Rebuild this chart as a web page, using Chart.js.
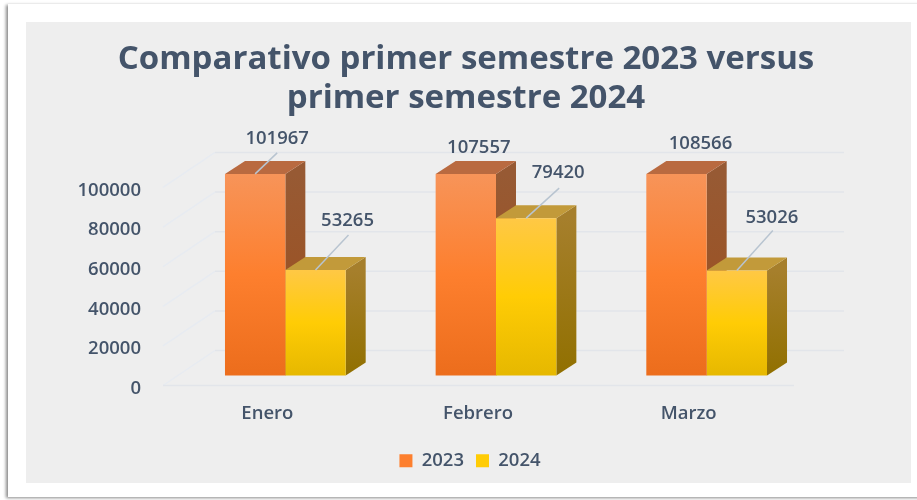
<!DOCTYPE html>
<html>
<head>
<meta charset="utf-8">
<title>Comparativo primer semestre</title>
<script src="https://cdn.jsdelivr.net/npm/chart.js@4"></script>
<style>
  html,body{margin:0;padding:0;background:#fff;width:917px;height:500px;overflow:hidden}
  #marco{position:absolute;left:8px;top:4px;width:930px;height:493px;background:#fff;box-shadow:-2px 1px 3px #8a8a8a}
  #panel{position:absolute;left:26px;top:22px;width:885px;height:461px;background:#eeeeee}
  canvas{position:absolute;left:0;top:0}
</style>
</head>
<body>
<div id="marco"></div>
<div id="panel"></div>
<canvas id="grafico" width="917" height="500"></canvas>
<script>
const categorias = ["Enero","Febrero","Marzo"];
const serie2023 = [101967,107557,108566];
const serie2024 = [53265,79420,53026];
const nombres = ["2023","2024"];
const marcasY = [0,20000,40000,60000,80000,100000];

const titulo = ["Comparativo primer semestre 2023 versus","primer semestre 2024"];
const colorTexto = "#44546a";
const fuente = "'Open Sans', sans-serif";

// colores: frente (arriba, medio, abajo), lado y techo de cada barra
const frente = [["#f79459","#fd7f2e","#ec6d1c"],["#ffc845","#ffcc05","#e6b800"]];
const lados = [["#975a34","#9e4e1b"],["#a67f2c","#917000"]];
const techos = ["#b96a40","#c29a3a"];

// profundidad de la barra y de la pared del fondo
const prof = {x:20,y:13};
const pared = {x:52,y:35};

// desplazamiento de cada etiqueta y fin de su linea guia, respecto al techo de la barra
const posEtiquetas = [
  [[22,-35],[13,-26],[24,-30]],
  [[32,-49],[32,-45],[35,-53]]
];
const finGuia = [
  [[22,-21],null,null],
  [[33,-35],[33,-30],[36,-40]]
];

function degradado(ctx,i){
  const c = frente[i];
  const area = ctx.chart.chartArea;
  if(!area || ctx.raw===undefined) return c[1];
  const esc = ctx.chart.scales.yBarras;
  const arriba = Math.max(esc.getPixelForValue(ctx.raw),area.top);
  const abajo = esc.getPixelForValue(0);
  const g = ctx.chart.ctx.createLinearGradient(0,arriba,0,abajo);
  g.addColorStop(0,c[0]);
  g.addColorStop(0.5,c[1]);
  g.addColorStop(1,c[2]);
  return g;
}

const pluginFondo = {
  id:"fondo3d",
  afterLayout(chart){
    // la leyenda va un poco a la derecha del titulo
    chart.legend.left += 4;
    chart.legend.right += 4;
  },
  beforeDatasetsDraw(chart){
    const c = chart.ctx, a = chart.chartArea, y = chart.scales.y;
    c.save();
    c.lineWidth = 1.5;
    y.ticks.forEach(t=>{
      const py = y.getPixelForValue(t.value);
      c.strokeStyle = "#e7ebf1";
      c.beginPath();
      c.moveTo(a.left-17,py);
      c.lineTo(a.left-17+pared.x,py-pared.y);
      c.stroke();
      c.strokeStyle = "#e2e5ea";
      c.beginPath();
      c.moveTo(a.left-17+pared.x,py-pared.y);
      c.lineTo(a.right+32,py-pared.y);
      c.stroke();
      if(t.value===0){
        c.beginPath();
        c.moveTo(a.left-17,py);
        c.lineTo(a.right-18,py);
        c.stroke();
      }
    });
    // lado y techo de las barras
    [0,1].forEach(i=>{
      chart.getDatasetMeta(i).data.forEach(b=>{
        const top = Math.max(b.y,a.top), izq = b.x-b.width/2, der = b.x+b.width/2;
        const g = c.createLinearGradient(0,top,0,b.base);
        g.addColorStop(0,lados[i][0]);
        g.addColorStop(1,lados[i][1]);
        c.fillStyle = g;
        c.beginPath();
        c.moveTo(der,top);
        c.lineTo(der+prof.x,top-prof.y);
        c.lineTo(der+prof.x,b.base-prof.y);
        c.lineTo(der,b.base);
        c.closePath();
        c.fill();
        c.fillStyle = techos[i];
        c.beginPath();
        c.moveTo(izq,top);
        c.lineTo(izq+prof.x,top-prof.y);
        c.lineTo(der+prof.x,top-prof.y);
        c.lineTo(der,top);
        c.closePath();
        c.fill();
      });
    });
    c.restore();
  },
  afterDatasetsDraw(chart){
    const c = chart.ctx, a = chart.chartArea;
    c.save();
    c.font = "600 18.5px "+fuente;
    c.fillStyle = colorTexto;
    c.textAlign = "center";
    c.textBaseline = "middle";
    c.strokeStyle = "#b8c4d0";
    c.lineWidth = 1.5;
    [0,1].forEach(i=>{
      chart.getDatasetMeta(i).data.forEach((b,j)=>{
        const top = Math.max(b.y,a.top);
        const fin = finGuia[i][j], pos = posEtiquetas[i][j];
        if(fin){
          c.beginPath();
          c.moveTo(b.x,top);
          c.lineTo(b.x+fin[0],top+fin[1]);
          c.stroke();
        }
        c.fillText(chart.data.datasets[i].data[j],b.x+pos[0],top+pos[1]);
      });
    });
    c.restore();
  }
};

const fuenteEjes = {family:fuente,size:18.5,weight:"600"};

new Chart(document.getElementById("grafico"),{
  type:"bar",
  data:{
    labels:categorias,
    datasets:[
      {label:nombres[0],data:serie2023,yAxisID:"yBarras",backgroundColor:ctx=>degradado(ctx,0),categoryPercentage:0.573,barPercentage:1},
      {label:nombres[1],data:serie2024,yAxisID:"yBarras",backgroundColor:ctx=>degradado(ctx,1),categoryPercentage:0.573,barPercentage:1}
    ]
  },
  plugins:[pluginFondo],
  options:{
    responsive:false,
    animation:false,
    layout:{padding:{left:60,right:45,top:0,bottom:20}},
    plugins:{
      tooltip:{enabled:false},
      title:{
        display:true,
        text:titulo,
        color:colorTexto,
        font:{family:fuente,size:33,weight:"bold",lineHeight:1.18},
        padding:{top:40,bottom:56}
      },
      legend:{
        position:"bottom",
        labels:{
          color:colorTexto,
          font:fuenteEjes,
          boxWidth:13,
          boxHeight:13,
          padding:12,
          generateLabels:chart=>Chart.defaults.plugins.legend.labels.generateLabels(chart).map((l,i)=>({...l,fillStyle:frente[i][1],lineWidth:0}))
        }
      }
    },
    scales:{
      x:{
        grid:{display:false},
        border:{display:false},
        ticks:{color:colorTexto,font:fuenteEjes,labelOffset:-18,padding:9},
        afterFit(s){s.height=54;}
      },
      // eje visible en el plano delantero del suelo
      y:{
        min:0,
        max:106835,
        grid:{display:false},
        border:{display:false},
        ticks:{color:colorTexto,font:fuenteEjes,padding:31,labelOffset:3,callback:v=>String(v)},
        afterBuildTicks(s){s.ticks=marcasY.map(v=>({value:v}));},
        afterFit(s){s.width=120;}
      },
      // las barras van 10px mas arriba, cortadas en el techo del grafico
      yBarras:{
        position:"right",
        min:-5063,
        max:101772,
        grid:{display:false},
        border:{display:false},
        ticks:{display:false},
        afterFit(s){s.width=60;}
      }
    }
  }
});
</script>
</body>
</html>
